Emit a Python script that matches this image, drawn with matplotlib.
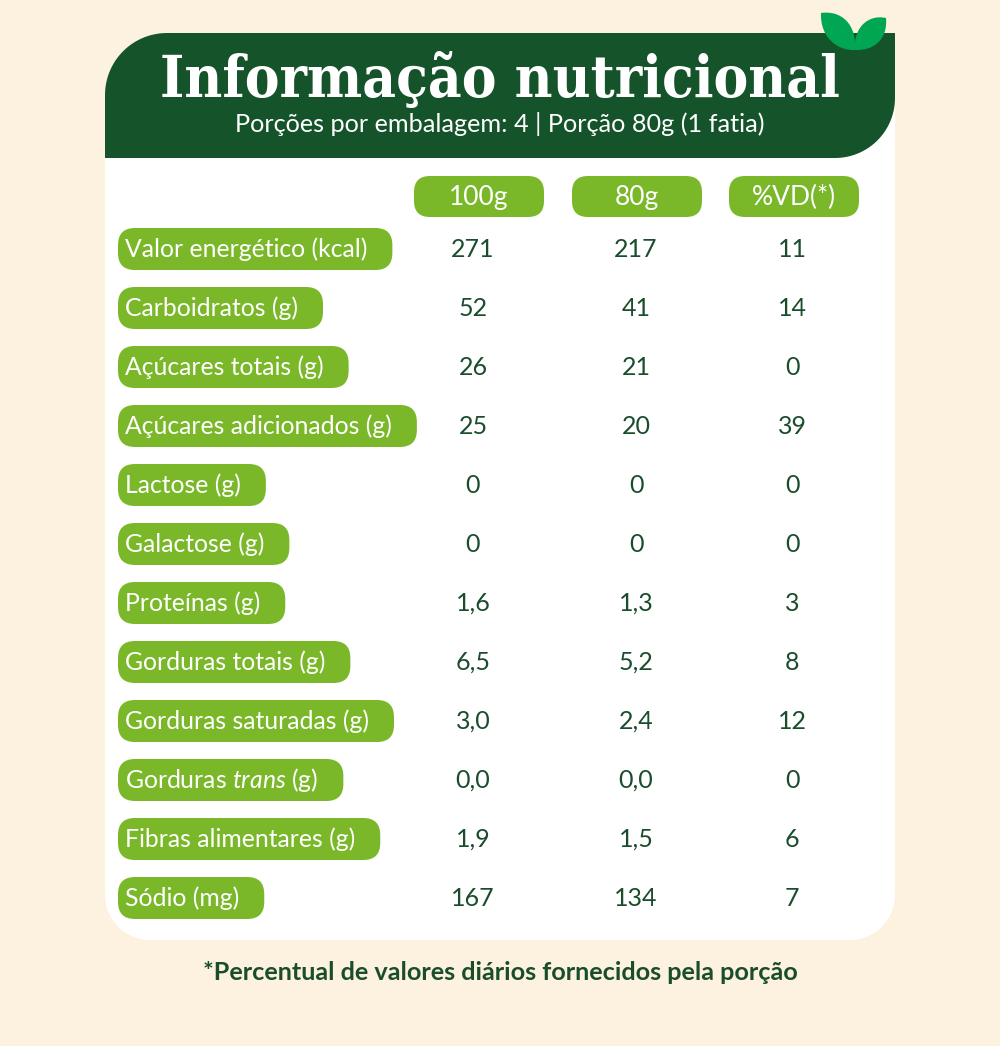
import numpy as np
import matplotlib.pyplot as plt
from matplotlib.patches import FancyBboxPatch, PathPatch
from matplotlib.path import Path

plt.rcParams['font.family'] = ['Lato', 'DejaVu Sans']
plt.rcParams['mathtext.fontset'] = 'custom'
plt.rcParams['mathtext.rm'] = 'Lato'
plt.rcParams['mathtext.it'] = 'Lato:italic'

# dados da tabela
titulo = 'Informação nutricional'
subtitulo = 'Porções por embalagem: 4 | Porção 80g (1 fatia)'
colunas = ['100g', '80g', '%VD(*)']
nutrientes = ['Valor energético (kcal)', 'Carboidratos (g)', 'Açúcares totais (g)',
              'Açúcares adicionados (g)', 'Lactose (g)', 'Galactose (g)', 'Proteínas (g)',
              'Gorduras totais (g)', 'Gorduras saturadas (g)', r'Gorduras $\mathit{trans}$ (g)',
              'Fibras alimentares (g)', 'Sódio (mg)']
por_100g = ['271', '52', '26', '25', '0', '0', '1,6', '6,5', '3,0', '0,0', '1,9', '167']
por_80g = ['217', '41', '21', '20', '0', '0', '1,3', '5,2', '2,4', '0,0', '1,5', '134']
vd = ['11', '14', '0', '39', '0', '0', '3', '8', '12', '0', '6', '7']
rodape = '*Percentual de valores diários fornecidos pela porção'

creme = '#fdf2df'
verde_escuro = '#15532b'
verde_claro = '#7ab82a'
verde_texto = '#1a4d2c'
verde_folha = '#00a651'


def caixa(x0, y0, x1, y1, raios):
    # retangulo com raio por canto: sup-esq, sup-dir, inf-dir, inf-esq (y para baixo)
    tl, tr, br, bl = raios
    pts = []
    for cx, cy, r, a0 in [(x0 + tl, y0 + tl, tl, np.pi), (x1 - tr, y0 + tr, tr, 1.5 * np.pi),
                          (x1 - br, y1 - br, br, 0.0), (x0 + bl, y1 - bl, bl, 0.5 * np.pi)]:
        t = np.linspace(a0, a0 + 0.5 * np.pi, 30)
        pts += list(zip(cx + r * np.cos(t), cy + r * np.sin(t)))
    pts.append(pts[0])
    return Path(pts, closed=True)


fig = plt.figure(figsize=(10, 10.46), dpi=100)
fig.patch.set_facecolor(creme)
ax = fig.add_axes([0, 0, 1, 1])
ax.set_xlim(0, 1000)
ax.set_ylim(1046, 0)
ax.axis('off')
rend = fig.canvas.get_renderer()


def ajusta(t, largura):
    w = t.get_window_extent(rend).width
    t.set_fontsize(t.get_fontsize() * largura / w)


# cartao branco e cabecalho
ax.add_patch(PathPatch(caixa(105, 95, 895, 940, [0, 0, 45, 45]), fc='white', ec='none'))
ax.add_patch(PathPatch(caixa(105, 33, 895, 158, [62, 0, 60, 0]), fc=verde_escuro, ec='none'))

# folhinhas
folha_esq = Path([(821, 13), (841, 10), (857, 24), (855, 50), (838, 51), (820, 38), (821, 13)],
                 [Path.MOVETO] + [Path.CURVE4] * 6)
folha_dir = Path([(886, 18), (868, 14), (853, 28), (855, 50), (873, 51), (888, 40), (886, 18)],
                 [Path.MOVETO] + [Path.CURVE4] * 6)
for f in (folha_esq, folha_dir):
    ax.add_patch(PathPatch(f, fc=verde_folha, ec='none', zorder=3))

t = ax.text(500, 97, titulo, color='white', fontsize=40, fontweight='bold',
            family=['DejaVu Serif'], fontstretch='condensed', ha='center', va='baseline')
ajusta(t, 680)
t = ax.text(500, 132, subtitulo, color='white', fontsize=15, ha='center', va='baseline')
ajusta(t, 530)

# cabecalho das colunas
pilula_x = [414, 572, 729]
for x, nome in zip(pilula_x, colunas):
    ax.add_patch(FancyBboxPatch((x, 176), 130, 41, boxstyle='round,pad=0,rounding_size=16',
                                fc=verde_claro, ec='none'))
    ax.text(x + 65, 205, nome, color='white', fontsize=19, ha='center', va='baseline')

# linhas
centros_x = [473, 636, 792]
for i, nome in enumerate(nutrientes):
    yc = 249 + 59 * i
    t = ax.text(125, yc + 8, nome, color='white', fontsize=17.8, ha='left', va='baseline', zorder=3)
    fim = t.get_window_extent(rend).x1
    ax.add_patch(FancyBboxPatch((118, yc - 21), fim - 118 + 25, 42,
                                boxstyle='round,pad=0,rounding_size=17', fc=verde_claro, ec='none'))
    for x, col in zip(centros_x, (por_100g, por_80g, vd)):
        ax.text(x, yc + 8, col[i], color=verde_texto, fontsize=18, ha='center', va='baseline')

t = ax.text(500, 980, rodape, color=verde_texto, fontsize=16, fontweight='bold',
            ha='center', va='baseline')
ajusta(t, 600)

fig.savefig('out.png', dpi=100, facecolor=creme)
